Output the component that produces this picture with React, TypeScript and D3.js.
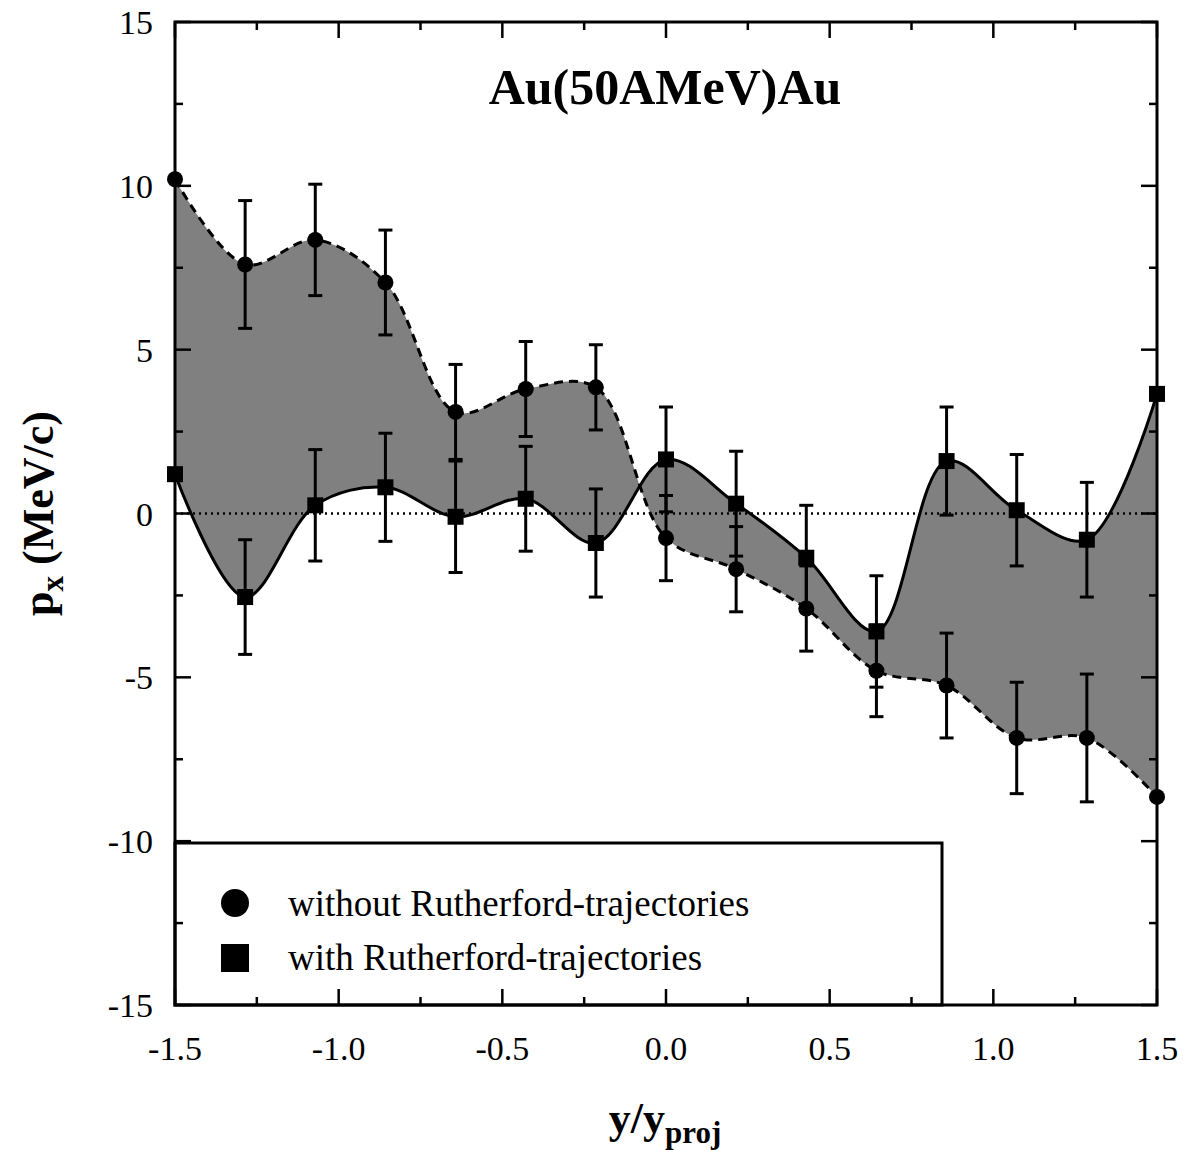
import * as React from 'react'
import * as d3 from 'd3'

const xs = d3.range(15).map((i) => -1.5 + (i * 3) / 14)
const circleVals = [10.2, 7.6, 8.35, 7.05, 3.1, 3.8, 3.85, -0.75, -1.7, -2.9, -4.8, -5.25, -6.85, -6.85, -8.65]
const circleErr = [0, 1.95, 1.7, 1.6, 1.45, 1.45, 1.3, 1.3, 1.3, 1.3, 1.4, 1.6, 1.7, 1.95, 0]
const squareVals = [1.2, -2.55, 0.25, 0.8, -0.1, 0.45, -0.9, 1.65, 0.3, -1.35, -3.6, 1.6, 0.1, -0.8, 3.65]
const squareErr = [0, 1.75, 1.7, 1.65, 1.7, 1.6, 1.65, 1.6, 1.6, 1.6, 1.7, 1.65, 1.7, 1.75, 0]
const xTicks = [-1.5, -1.0, -0.5, 0.0, 0.5, 1.0, 1.5]
const yTicks = [15, 10, 5, 0, -5, -10, -15]

const L = 175, R = 1157, T = 22, B = 1005
const font = '"Liberation Serif", "DejaVu Serif", serif'

export default function App() {
  const x = d3.scaleLinear().domain([-1.5, 1.5]).range([L, R])
  const y = d3.scaleLinear().domain([-15, 15]).range([B, T])
  const curve = d3.curveCatmullRom.alpha(0.5)
  const line = d3.line<number>().x((_, i) => x(xs[i])).y((d) => y(d)).curve(curve)
  const area = d3
    .area<number>()
    .x((_, i) => x(xs[i]))
    .y0((d) => y(d))
    .y1((_, i) => y(squareVals[i]))
    .curve(curve)

  const minorX = d3.range(-1.5, 1.5001, 0.25)
  const minorY = d3.range(-15, 15.001, 2.5)

  return (
    <svg width={1191} height={1150} style={{ position: 'absolute', left: 0, top: 0, background: '#fff' }} fontFamily={font}>
      <path d={area(circleVals) ?? ''} fill="#808080" />
      <line x1={L} x2={R} y1={y(0)} y2={y(0)} stroke="#000" strokeWidth={2.5} strokeDasharray="2,4" />
      <path d={line(circleVals) ?? ''} fill="none" stroke="#000" strokeWidth={3} strokeDasharray="9,6" />
      <path d={line(squareVals) ?? ''} fill="none" stroke="#000" strokeWidth={3} />
      {xs.map((xv, i) => (
        <g key={i} stroke="#000" strokeWidth={3}>
          {circleErr[i] > 0 && (
            <>
              <line x1={x(xv)} x2={x(xv)} y1={y(circleVals[i] - circleErr[i])} y2={y(circleVals[i] + circleErr[i])} />
              <line x1={x(xv) - 7} x2={x(xv) + 7} y1={y(circleVals[i] - circleErr[i])} y2={y(circleVals[i] - circleErr[i])} />
              <line x1={x(xv) - 7} x2={x(xv) + 7} y1={y(circleVals[i] + circleErr[i])} y2={y(circleVals[i] + circleErr[i])} />
            </>
          )}
          {squareErr[i] > 0 && (
            <>
              <line x1={x(xv)} x2={x(xv)} y1={y(squareVals[i] - squareErr[i])} y2={y(squareVals[i] + squareErr[i])} />
              <line x1={x(xv) - 7} x2={x(xv) + 7} y1={y(squareVals[i] - squareErr[i])} y2={y(squareVals[i] - squareErr[i])} />
              <line x1={x(xv) - 7} x2={x(xv) + 7} y1={y(squareVals[i] + squareErr[i])} y2={y(squareVals[i] + squareErr[i])} />
            </>
          )}
          <circle cx={x(xv)} cy={y(circleVals[i])} r={8} fill="#000" stroke="none" />
          <rect x={x(xv) - 8} y={y(squareVals[i]) - 8} width={16} height={16} fill="#000" stroke="none" />
        </g>
      ))}
      {/* legend */}
      <rect x={L} y={843} width={767} height={B - 843} fill="#fff" stroke="#000" strokeWidth={3} />
      <circle cx={235} cy={903} r={14} fill="#000" />
      <rect x={221} y={944} width={28} height={28} fill="#000" />
      <text x={288} y={916} fontSize={37}>without Rutherford-trajectories</text>
      <text x={288} y={970} fontSize={37}>with Rutherford-trajectories</text>
      {/* frame & ticks */}
      <rect x={L} y={T} width={R - L} height={B - T} fill="none" stroke="#000" strokeWidth={3} />
      {minorX.map((v) => {
        const major = xTicks.some((t) => Math.abs(t - v) < 1e-6)
        const len = major ? 16 : 8
        return (
          <g key={'x' + v} stroke="#000" strokeWidth={2.5}>
            <line x1={x(v)} x2={x(v)} y1={B} y2={B - len} />
            <line x1={x(v)} x2={x(v)} y1={T} y2={T + len} />
          </g>
        )
      })}
      {minorY.map((v) => {
        const major = yTicks.includes(v)
        const len = major ? 16 : 8
        return (
          <g key={'y' + v} stroke="#000" strokeWidth={2.5}>
            <line x1={L} x2={L + len} y1={y(v)} y2={y(v)} />
            <line x1={R} x2={R - len} y1={y(v)} y2={y(v)} />
          </g>
        )
      })}
      {xTicks.map((t) => (
        <text key={t} x={x(t)} y={1060} fontSize={34} textAnchor="middle">{t.toFixed(1)}</text>
      ))}
      {yTicks.map((t) => (
        <text key={t} x={153} y={y(t) + 12} fontSize={34} textAnchor="end">{t}</text>
      ))}
      <text x={665} y={104} fontSize={50} fontWeight="bold" textAnchor="middle">Au(50AMeV)Au</text>
      <text x={665} y={1133} fontSize={44} fontWeight="bold" textAnchor="middle">
        y/y<tspan fontSize={31} dy={10}>proj</tspan>
      </text>
      <text transform={`translate(53,${y(0)}) rotate(-90)`} fontSize={44} fontWeight="bold" textAnchor="middle">
        p<tspan fontSize={31} dy={10}>x</tspan><tspan dy={-10}> (MeV/c)</tspan>
      </text>
    </svg>
  )
}
